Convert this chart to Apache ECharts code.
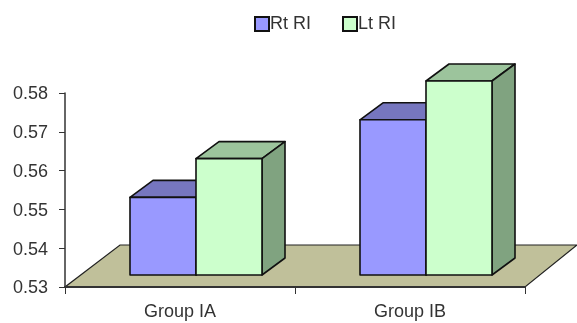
<!DOCTYPE html>
<html><head><meta charset="utf-8">
<style>html,body{margin:0;padding:0;background:#fff}#c{width:577px;height:323px}</style>
<script src="https://cdn.jsdelivr.net/npm/echarts@6/dist/echarts.min.js"></script>
</head><body><div id="c"></div>
<script>
const categories = ['Group IA', 'Group IB'];
const rtRI = [0.55, 0.57];
const ltRI = [0.56, 0.58];
const yTicks = { min: 0.53, max: 0.58, interval: 0.01 };

const FONT = '"Liberation Sans", Arial, sans-serif';
const EDGE = '#111';
const BAR_W = 66, SHIFT_X = 16, SHIFT_Y = -12, DEPTH_X = 23, DEPTH_Y = -17;

function poly(pts, fill, lw) {
  return { type: 'polygon', shape: { points: pts },
    style: { fill: fill, stroke: EDGE, lineWidth: lw === undefined ? 1.6 : lw, lineJoin: 'round' } };
}
function bar3d(side, front, top, right) {
  return function (params, api) {
    const cat = api.value(0), val = api.value(1);
    const c = api.coord([cat, val]), b = api.coord([cat, yTicks.min]);
    const x0 = c[0] + SHIFT_X + (side < 0 ? -BAR_W : 0), x1 = x0 + BAR_W;
    const yt = c[1] + SHIFT_Y, yb = b[1] + SHIFT_Y;
    return { type: 'group', children: [
      poly([[x0, yt], [x1, yt], [x1 + DEPTH_X, yt + DEPTH_Y], [x0 + DEPTH_X, yt + DEPTH_Y]], top),
      poly([[x1, yt], [x1 + DEPTH_X, yt + DEPTH_Y], [x1 + DEPTH_X, yb + DEPTH_Y], [x1, yb]], right),
      poly([[x0, yt], [x1, yt], [x1, yb], [x0, yb]], front)
    ]};
  };
}
function floor(params, api) {
  const r = params.coordSys, yb = r.y + r.height, x1 = r.x + r.width;
  return { type: 'group', children: [
    { type: 'polygon', shape: { points: [[r.x, yb], [x1, yb], [x1 + 52, yb - 42], [r.x + 55, yb - 42]] },
      style: { fill: '#C0C09A', stroke: '#222', lineWidth: 1.2 } }
  ]};
}

const chart = echarts.init(document.getElementById('c'), null, { renderer: 'canvas' });
chart.setOption({
  animation: false,
  backgroundColor: '#fff',
  grid: { left: 65, right: 52, top: 93, bottom: 36 },
  legend: {
    data: ['Rt RI', 'Lt RI'], top: 10, left: 249, itemWidth: 14, itemHeight: 14, itemGap: 31, icon: 'rect',
    textStyle: { fontFamily: FONT, fontSize: 18, color: '#333', padding: [0, 0, 0, -4] }
  },
  xAxis: {
    type: 'category', data: categories, z: 5,
    axisLine: { lineStyle: { color: '#333', width: 2 } },
    axisTick: { show: true, length: 7, lineStyle: { color: '#333' } },
    axisLabel: { fontFamily: FONT, fontSize: 18, color: '#333', margin: 16 }
  },
  yAxis: {
    type: 'value', min: yTicks.min, max: yTicks.max, interval: yTicks.interval,
    splitLine: { show: false },
    axisLine: { show: true, lineStyle: { color: '#333', width: 1.5 } },
    axisTick: { show: true, length: 6, lineStyle: { color: '#333' } },
    axisLabel: {
      fontFamily: FONT, fontSize: 18, color: '#333', margin: 17,
      formatter: v => '{t|' + v.toFixed(2) + '}',
      rich: { t: { fontFamily: FONT, fontSize: 18, color: '#333', padding: [3, 0, 0, 0] } }
    }
  },
  series: [
    { type: 'custom', name: 'floor', renderItem: floor, data: [[0, yTicks.min]], silent: true, z: 1 },
    { type: 'custom', name: 'Rt RI', z: 2, renderItem: bar3d(-1, '#9999FF', '#7676BF', '#7373BF'),
      encode: { x: 0, y: 1 }, itemStyle: { color: '#9999FF', borderColor: '#111', borderWidth: 2.5 },
      data: rtRI.map((v, i) => [i, v]) },
    { type: 'custom', name: 'Lt RI', z: 3, renderItem: bar3d(1, '#CCFFCC', '#9CC49C', '#80A380'),
      encode: { x: 0, y: 1 }, itemStyle: { color: '#CCFFCC', borderColor: '#111', borderWidth: 2.5 },
      data: ltRI.map((v, i) => [i, v]) }
  ]
});
</script></body></html>
